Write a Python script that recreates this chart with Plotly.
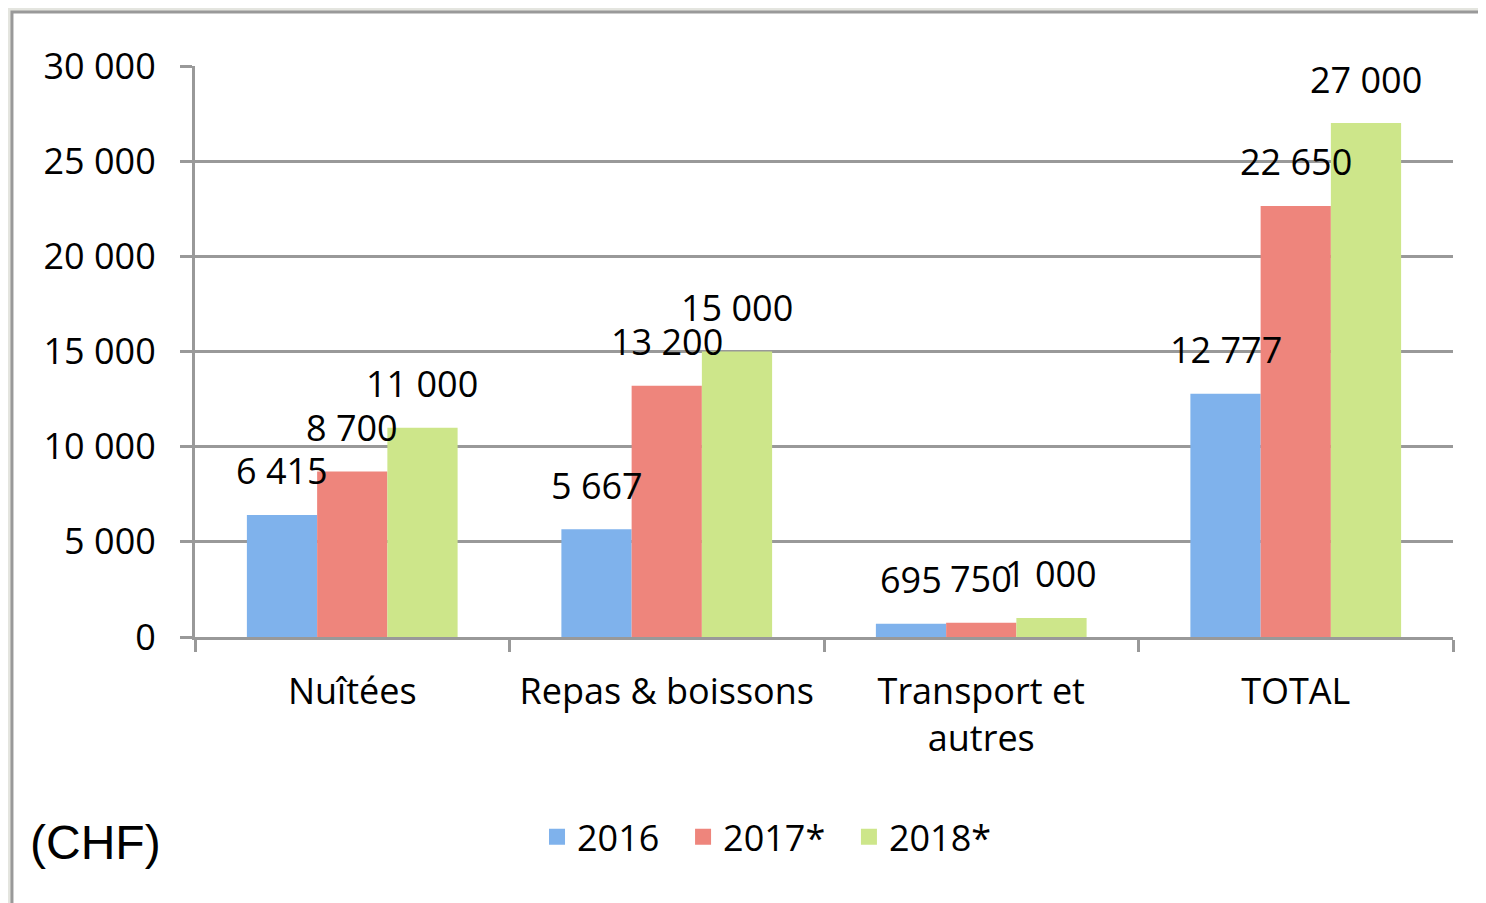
import plotly.graph_objects as go

categories = ["Nuîtées", "Repas & boissons", "Transport et<br>autres", "TOTAL"]
series_names = ["2016", "2017*", "2018*"]
values_2016 = [6415, 5667, 695, 12777]
values_2017 = [8700, 13200, 750, 22650]
values_2018 = [11000, 15000, 1000, 27000]
colors = ["#7fb2ec", "#ee857c", "#cde68a"]

FONT = "Open Sans, Lato, sans-serif"
GREY = "#999999"
FS = 36

W, H = 1478, 895
ML, MR, MT, MB = 187, 33, 58, 266
BARGAP = 0.33
plot_w = W - ML - MR
bar_px = plot_w / len(categories) * (1 - BARGAP) / len(series_names)

all_values = [values_2016, values_2017, values_2018]

fig = go.Figure()
for name, vals, col in zip(series_names, all_values, colors):
    fig.add_trace(go.Bar(
        x=categories, y=vals, name=name, showlegend=False,
        marker=dict(color=col, line=dict(width=0)),
    ))
# legend entries with square swatches
for i, (name, col) in enumerate(zip(series_names, colors)):
    pad = "\u00a0\u00a0" if i < len(series_names) - 1 else ""
    fig.add_trace(go.Scatter(
        x=[None], y=[None], mode="markers", name=name + pad,
        marker=dict(symbol="square", size=16, color=col),
    ))

annotations = []
for k, vals in enumerate(all_values):
    for cat, v in zip(categories, vals):
        annotations.append(dict(
            x=cat, y=v, xref="x", yref="y",
            text=f"{v:,}".replace(",", " "),
            showarrow=False, xanchor="center", yanchor="middle",
            xshift=(k - (len(series_names) - 1) / 2) * bar_px, yshift=44,
            font=dict(family=FONT, size=FS, color="black"),
        ))
annotations.append(dict(
    text="(CHF)", xref="paper", yref="paper", x=-0.133, y=-0.36,
    xanchor="left", yanchor="middle", showarrow=False,
    font=dict(family="Liberation Sans Narrow, Liberation Sans, sans-serif", size=48, color="black"),
))

fig.update_layout(
    width=W, height=H,
    margin=dict(l=ML, r=MR, t=MT, b=MB, autoexpand=False),
    paper_bgcolor="#e4e5df",
    plot_bgcolor="rgba(0,0,0,0)",
    separators=". ",
    barmode="group",
    bargap=BARGAP,
    bargroupgap=0,
    font=dict(family=FONT, size=FS, color="black"),
    showlegend=True,
    legend=dict(
        orientation="h", x=0.4547, xanchor="center", y=-0.35, yanchor="middle",
        font=dict(family=FONT, size=FS, color="black"),
        bgcolor="rgba(0,0,0,0)", itemwidth=30,
    ),
    shapes=[dict(
        type="rect", xref="paper", yref="paper",
        x0=-0.1455, x1=1.1, y0=-0.6, y1=1.0946,
        fillcolor="white", line=dict(color=GREY, width=3), layer="below",
    )],
    annotations=annotations,
)

fig.update_xaxes(
    showline=True, linecolor=GREY, linewidth=3,
    ticks="outside", tickson="boundaries", ticklen=12, tickwidth=3, tickcolor=GREY,
    showgrid=False, ticklabelstandoff=21,
    tickfont=dict(family=FONT, size=FS, color="black"),
)
fig.update_yaxes(
    range=[0, 30000], dtick=5000, tickformat=",d",
    showline=True, linecolor=GREY, linewidth=3,
    ticks="outside", ticklen=12, tickwidth=3, tickcolor=GREY,
    showgrid=True, gridcolor=GREY, gridwidth=3, zeroline=False,
    ticklabelstandoff=17,
    tickfont=dict(family=FONT, size=FS, color="black"),
)

fig.write_html("out.html")
